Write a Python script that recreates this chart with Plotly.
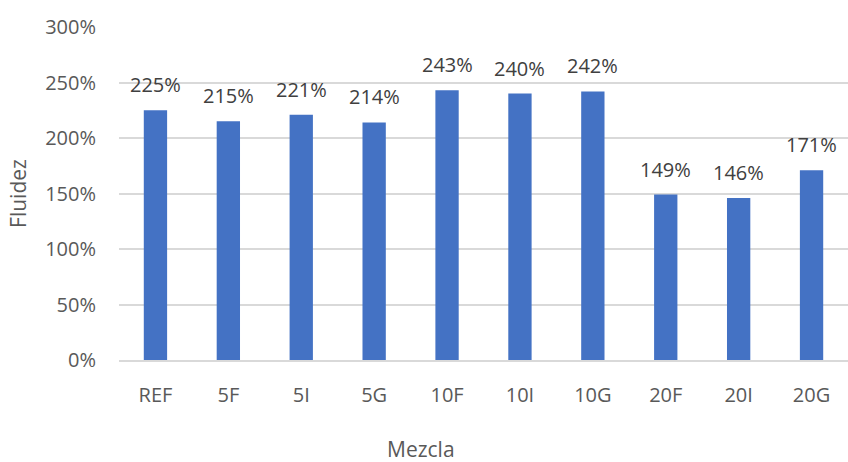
import plotly.graph_objects as go

categories = ["REF", "5F", "5I", "5G", "10F", "10I", "10G", "20F", "20I", "20G"]
values = [2.25, 2.15, 2.21, 2.14, 2.43, 2.40, 2.42, 1.49, 1.46, 1.71]
labels = ["225%", "215%", "221%", "214%", "243%", "240%", "242%", "149%", "146%", "171%"]

FONT = "Open Sans"
GREY = "#595959"
fig = go.Figure(go.Bar(
    x=categories, y=values,
    marker=dict(color="#4472c4", line=dict(width=0)),
))
for c, v, t in zip(categories, values, labels):
    fig.add_annotation(x=c, y=v, text=t, showarrow=False, yanchor="bottom",
                       yshift=10, font=dict(family=FONT, size=20, color="#404040"))
fig.add_annotation(x=(421 - 119) / (848 - 119), y=-(449 - 360) / (360 - 27),
                   xref="paper", yref="paper", text="Mezcla",
                   xanchor="center", yanchor="middle",
                   showarrow=False, font=dict(family=FONT, size=21, color=GREY))
fig.update_layout(
    width=848, height=462,
    margin=dict(l=119, r=0, t=27, b=102),
    paper_bgcolor="white", plot_bgcolor="white",
    bargap=0.68,
    showlegend=False,
    font=dict(family=FONT, size=20, color=GREY),
    xaxis=dict(showline=True, linecolor="#d9d9d9", linewidth=2, ticks="",
               ticklabelstandoff=16,
               tickfont=dict(size=20, color=GREY)),
    yaxis=dict(title=dict(text="Fluidez", font=dict(size=21, color=GREY), standoff=12),
               range=[0, 3], dtick=0.5, tickformat=".0%",
               showgrid=True, gridcolor="#d9d9d9", gridwidth=1.5,
               zeroline=False, ticks="", ticklabelstandoff=22,
               tickfont=dict(size=20, color=GREY)),
)
fig.write_html("out.html")
